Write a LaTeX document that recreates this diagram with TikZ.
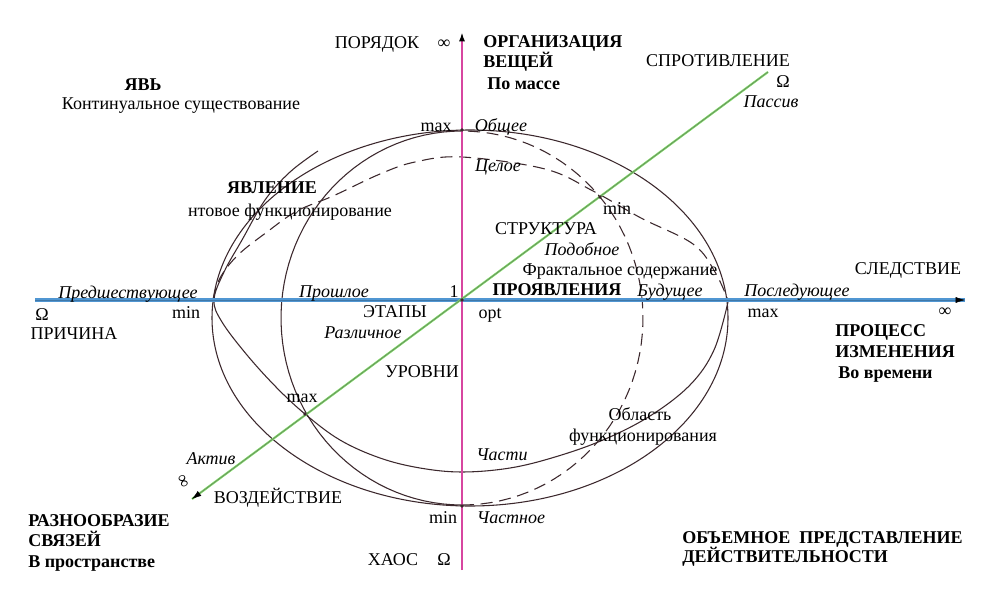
\documentclass[tikz,border=0pt]{standalone}
\usepackage{fontspec}
\setmainfont{Liberation Serif}
\usetikzlibrary{arrows.meta}
\definecolor{curveColor}{RGB}{60,40,45}
\definecolor{timeBlue}{RGB}{80,150,210}
\definecolor{massMagenta}{RGB}{215,70,160}
\definecolor{actGreen}{RGB}{125,220,100}

\begin{document}
\begin{tikzpicture}
[x=0.75pt,y=-0.75pt,
  curveSolid/.style={draw=curveColor,line width=0.8pt},
  curveDashed/.style={curveSolid,dash pattern=on 9pt off 5pt},
  axisTip/.style={-{Latex[length=7pt,width=4.5pt,color=black]}},
  plainLabel/.style={inner sep=0pt,text height=0.66em,text depth=0pt},
  italicLabel/.style={plainLabel,font=\itshape},
  boldLabel/.style={plainLabel,font=\bfseries}]
\fontsize{13.5pt}{16pt}\selectfont
\useasboundingbox (0,0) rectangle (982,589);
\fill[white] (0,0) rectangle (982,589);

%% axis end points
\coordinate (O) at (462,300);
\coordinate (xL) at (35,300);
\coordinate (xR) at (965,300);
\coordinate (yB) at (462,570);
\coordinate (yT) at (462,32);
\coordinate (gT) at (768,72);
\coordinate (gB) at (192,499);

%% curves
\draw[curveSolid] (470,318) ellipse [x radius=258, y radius=188];
\draw[curveSolid] plot[domain=90:270,samples=60] ({462+181*cos(\x)},{318-187*sin(\x)});
\draw[curveDashed] plot[domain=-90:90,samples=60] ({462+181*cos(\x)},{318-187*sin(\x)});
\draw[curveDashed] plot[smooth,tension=0.6] coordinates {
  (213,300) (220,278) (238,255) (267,232) (297,211) (333,196) (380,174)
  (415,162) (462,157) (545,169) (593,191) (641,218) (693,244) (715,272) (728,300)};
\draw[curveSolid] plot[smooth,tension=0.6] coordinates {
  (318,151) (290,172) (265,200) (242,240) (224,272) (214,300) (222,322)
  (247,355) (276,387) (305,414) (340,440) (380,458) (420,468) (462,472)
  (510,468) (555,457) (603,440) (650,416) (690,385) (714,350) (728,302)};

%% axes
\draw[line width=2.4pt,timeBlue] (xL) -- (xR);
\draw[axisTip,line width=0.3pt,timeBlue!80!black] (xL) -- (xR);
\draw[axisTip,line width=1.6pt,massMagenta] (yB) -- (yT);
\draw[line width=1.6pt,actGreen] (gT) -- (gB);
\draw[axisTip,line width=0.3pt,black!60] (gT) -- (gB);

%% points
\foreach \px/\py in {462/300, 462/130, 462/506, 305/414, 600/197}
  \fill[curveColor] (\px,\py) circle [radius=1.8];

%% plain labels
\foreach \nodename/\x/\y/\txt in {
  kont/181/104/Континуальное существование,
  kvant/290/211/нтовое функционирование,
  poryadok/377/43/ПОРЯДОК,
  infTop/444/43/∞,
  sprot/718/61/СПРОТИВЛЕНИЕ,
  omegaTR/783/82/Ω,
  maxTop/436/126/max,
  minGreen/617/209/min,
  struct/546/229/СТРУКТУРА,
  fractal/620/270/Фрактальное содержание,
  sledst/908/269/СЛЕДСТВИЕ,
  maxRight/763/312/max,
  infRight/945/311/∞,
  omegaL/42/315/Ω,
  minLeft/186/313/min,
  prichina/74/334/ПРИЧИНА,
  one/454/292/1,
  etapy/395/312/ЭТАПЫ,
  opt/490/313/opt,
  urovni/422/372/УРОВНИ,
  maxLow/302/397/max,
  vozd/278/498/ВОЗДЕЙСТВИЕ,
  minBottom/443/518/min,
  haos/393/560/ХАОС,
  omegaB/444/560/Ω,
  oblast/640/415/Область,
  funkc/643/436/функционирования}
{
  \node (\nodename) at (\x,\y) [plainLabel] {\txt};
}
\node (infAct) at (184,481) [plainLabel,rotate=-66] {∞};

%% italic labels
\foreach \nodename/\x/\y/\txt in {
  obshee/501/126/Общее,
  tseloe/498/166/Целое,
  passiv/771/102/Пассив,
  predsh/128/293/Предшествующее,
  proshl/334/292/Прошлое,
  podob/582/250/Подобное,
  budush/670/291/Будущее,
  posled/797/291/Последующее,
  razl/363/333/Различное,
  aktiv/211/459/Актив,
  chasti/502/455/Части,
  chastn/511/518/Частное}
{
  \node (\nodename) at (\x,\y) [italicLabel] {\txt};
}

%% bold labels
\foreach \nodename/\x/\y/\txt in {
  yav/143/85/ЯВЬ,
  yavlen/272/188/ЯВЛЕНИЕ,
  proyavl/557/290/ПРОЯВЛЕНИЯ}
{
  \node (\nodename) at (\x,\y) [boldLabel] {\txt};
}
\foreach \nodename/\x/\y/\txt in {
  org/483/42/ОРГАНИЗАЦИЯ,
  veshch/483/62/ВЕЩЕЙ,
  pomasse/487/84/По массе,
  process/835/331/ПРОЦЕСС,
  izmen/835/352/ИЗМЕНЕНИЯ,
  vovrem/838/373/Во времени,
  raznoobr/28/521/РАЗНООБРАЗИЕ,
  svyaz/28/541/СВЯЗЕЙ,
  vprostr/28/562/В пространстве,
  obyem/682/538/ОБЪЕМНОЕ\ \ ПРЕДСТАВЛЕНИЕ,
  deystv/682/557/ДЕЙСТВИТЕЛЬНОСТИ}
{
  \node (\nodename) at (\x,\y) [boldLabel,anchor=west] {\txt};
}
\end{tikzpicture}
\end{document}
